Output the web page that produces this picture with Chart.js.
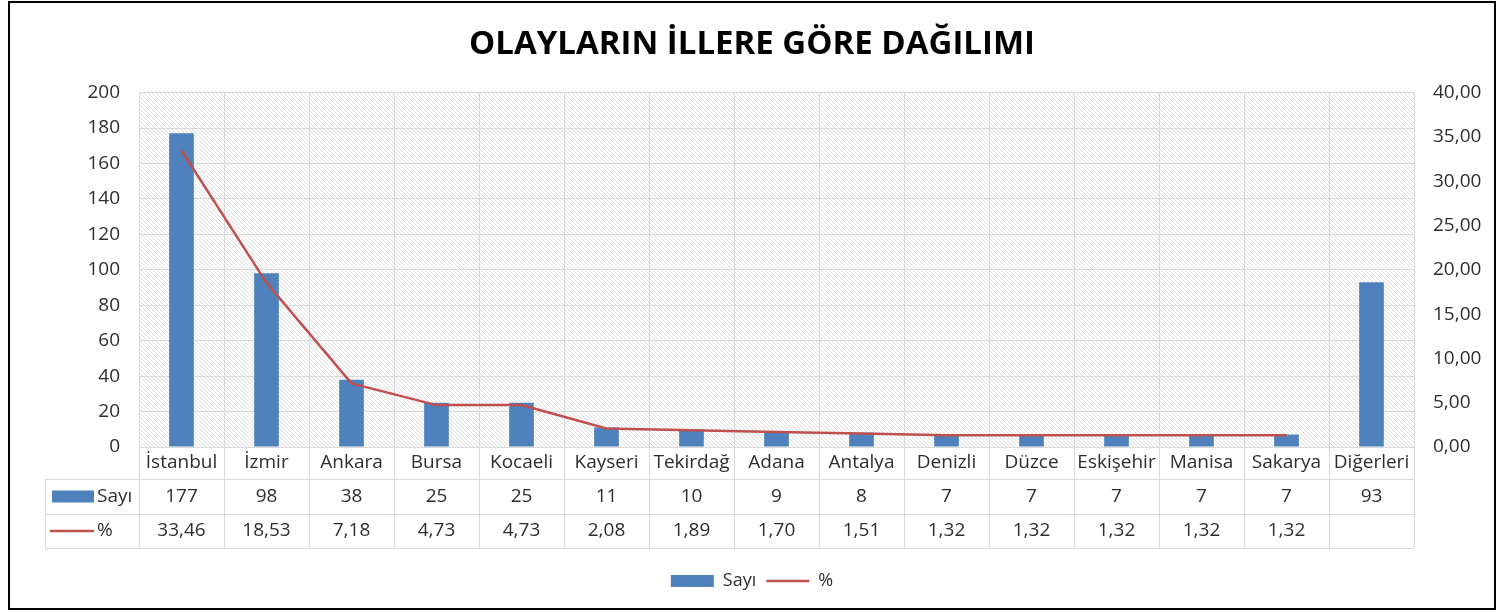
<!DOCTYPE html>
<html>
<head>
<meta charset="utf-8">
<script src="https://cdn.jsdelivr.net/npm/chart.js@4.4.1/dist/chart.umd.min.js"></script>
<style>
html, body { margin: 0; padding: 0; background: #fff; }
#frame { position: absolute; left: 8px; top: 1px; width: 1484px; height: 605px; border: 2px solid #000; background: #fff; }
canvas { display: block; }
</style>
</head>
<body>
<div id="frame"><canvas id="chart" width="1484" height="605"></canvas></div>
<script>
// veriler
const categories = ['İstanbul', 'İzmir', 'Ankara', 'Bursa', 'Kocaeli', 'Kayseri', 'Tekirdağ', 'Adana',
                    'Antalya', 'Denizli', 'Düzce', 'Eskişehir', 'Manisa', 'Sakarya', 'Diğerleri'];
const sayiValues = [177, 98, 38, 25, 25, 11, 10, 9, 8, 7, 7, 7, 7, 7, 93];
const yuzdeValues = [33.46, 18.53, 7.18, 4.73, 4.73, 2.08, 1.89, 1.70, 1.51, 1.32, 1.32, 1.32, 1.32, 1.32, null];
const leftAxis = { min: 0, max: 200, step: 20 };
const rightAxis = { min: 0, max: 40, step: 5 };

const BLUE = '#4F81BD';
const RED = '#C0504D';
const GRID = '#D9D9D9';
const TEXT = '#2E2E2E';
const FONT = "'Open Sans', sans-serif";

const fmt = v => (v === null || v === undefined) ? '' : v.toFixed(2).replace('.', ',');

// taralı arka plan
function hatchPattern(ctx) {
    const p = document.createElement('canvas');
    p.width = 4; p.height = 4;
    const c = p.getContext('2d');
    c.fillStyle = '#fff';
    c.fillRect(0, 0, 4, 4);
    c.strokeStyle = '#E0E0E0';
    c.lineWidth = 1;
    c.beginPath();
    c.moveTo(-1, -1); c.lineTo(5, 5);
    c.moveTo(-1, 3); c.lineTo(1, 5);
    c.moveTo(3, -1); c.lineTo(5, 1);
    c.stroke();
    return ctx.createPattern(p, 'repeat');
}

const hatchPlugin = {
    id: 'hatch',
    beforeDraw(chart) {
        const { ctx, chartArea: a } = chart;
        ctx.save();
        ctx.fillStyle = hatchPattern(ctx);
        ctx.fillRect(a.left, a.top, a.right - a.left, a.bottom - a.top);
        ctx.restore();
    }
};

// alttaki veri tablosu
const tablePlugin = {
    id: 'dataTable',
    afterDraw(chart) {
        const { ctx, chartArea: a, scales: { x } } = chart;
        const colW = x.getPixelForValue(1) - x.getPixelForValue(0);
        const top = a.bottom;
        const r1 = top + 32, r2 = r1 + 35, r3 = r2 + 34;
        const tableLeft = a.left - 94;

        ctx.save();
        ctx.strokeStyle = GRID;
        ctx.lineWidth = 1;
        ctx.beginPath();
        [r1, r2, r3].forEach(y => {
            ctx.moveTo(tableLeft, Math.round(y) + 0.5);
            ctx.lineTo(a.right, Math.round(y) + 0.5);
        });
        ctx.moveTo(tableLeft + 0.5, r1);
        ctx.lineTo(tableLeft + 0.5, r3);
        for (let i = 0; i <= categories.length; i++) {
            const xx = Math.round(x.getPixelForValue(i) - colW / 2) + 0.5;
            ctx.moveTo(xx, top);
            ctx.lineTo(xx, r3);
        }
        ctx.stroke();

        // anahtarlar
        const c2 = (r1 + r2) / 2, c3 = (r2 + r3) / 2;
        ctx.fillStyle = BLUE;
        ctx.fillRect(tableLeft + 7, c2 - 6, 42, 12);
        ctx.strokeStyle = RED;
        ctx.lineWidth = 2.5;
        ctx.beginPath();
        ctx.moveTo(tableLeft + 5, c3);
        ctx.lineTo(tableLeft + 49, c3);
        ctx.stroke();

        ctx.fillStyle = TEXT;
        ctx.font = '19px ' + FONT;
        ctx.textBaseline = 'middle';
        ctx.textAlign = 'left';
        ctx.fillText('Sayı', tableLeft + 52, c2);
        ctx.fillText('%', tableLeft + 52, c3);

        ctx.textAlign = 'center';
        categories.forEach((cat, i) => {
            const cx = x.getPixelForValue(i);
            ctx.fillText(String(sayiValues[i]), cx, c2);
            ctx.fillText(fmt(yuzdeValues[i]), cx, c3);
        });
        ctx.restore();
    }
};

new Chart(document.getElementById('chart'), {
    data: {
        labels: categories,
        datasets: [{
            type: 'bar',
            label: 'Sayı',
            data: sayiValues,
            backgroundColor: BLUE,
            borderWidth: 0,
            barPercentage: 0.29,
            categoryPercentage: 1,
            yAxisID: 'y',
            order: 2
        }, {
            type: 'line',
            label: '%',
            data: yuzdeValues,
            borderColor: RED,
            backgroundColor: RED,
            borderWidth: 2.5,
            pointRadius: 0,
            tension: 0,
            spanGaps: false,
            yAxisID: 'y1',
            order: 1
        }]
    },
    options: {
        responsive: false,
        animation: false,
        layout: { padding: { top: 0, left: 0, right: 0, bottom: 8 } },
        plugins: {
            title: {
                display: true,
                text: 'OLAYLARIN İLLERE GÖRE DAĞILIMI',
                color: '#000',
                font: { family: FONT, size: 33, weight: 'bold' },
                padding: { top: 22, bottom: 28 }
            },
            legend: {
                position: 'bottom',
                labels: {
                    usePointStyle: true,
                    pointStyleWidth: 43,
                    boxHeight: 12,
                    color: TEXT,
                    font: { family: FONT, size: 18 },
                    padding: 10,
                    sort: (a, b) => a.datasetIndex - b.datasetIndex,
                    generateLabels(chart) {
                        const items = Chart.defaults.plugins.legend.labels.generateLabels(chart);
                        items.forEach(it => {
                            it.pointStyle = it.datasetIndex === 0 ? 'rect' : 'line';
                        });
                        return items;
                    }
                }
            },
            tooltip: { enabled: false }
        },
        scales: {
            x: {
                offset: true,
                grid: { display: true, offset: true, color: GRID, drawTicks: false },
                border: { display: true, color: GRID },
                ticks: { color: TEXT, font: { family: FONT, size: 19 }, padding: 4, maxRotation: 0, autoSkip: false },
                afterFit(scale) { scale.height = 115; }
            },
            y: {
                position: 'left',
                min: leftAxis.min,
                max: leftAxis.max,
                ticks: { stepSize: leftAxis.step, color: TEXT, font: { family: FONT, size: 19 }, padding: 19 },
                grid: { color: GRID, drawTicks: false },
                border: { display: false },
                afterFit(scale) { scale.width = 129; }
            },
            y1: {
                position: 'right',
                min: rightAxis.min,
                max: rightAxis.max,
                ticks: { stepSize: rightAxis.step, color: TEXT, font: { family: FONT, size: 19 }, padding: 19,
                         callback: v => fmt(v) },
                grid: { display: false, drawTicks: false },
                border: { display: false },
                afterFit(scale) { scale.width = 80; }
            }
        }
    },
    plugins: [hatchPlugin, tablePlugin]
});
</script>
</body>
</html>
